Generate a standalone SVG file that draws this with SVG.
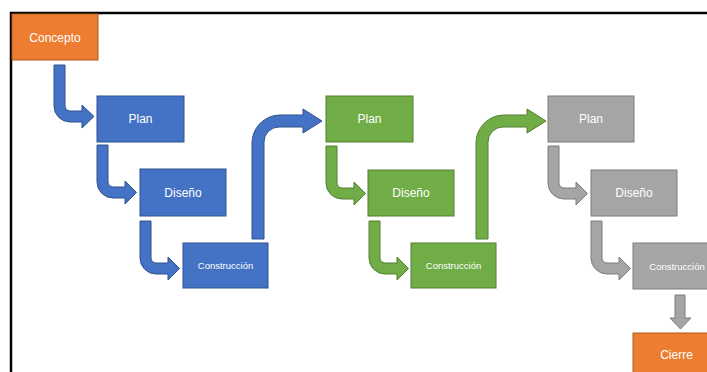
<svg xmlns="http://www.w3.org/2000/svg" width="707" height="372" viewBox="0 0 707 372">
  <style>
    .frame { fill: none; stroke: #000; stroke-width: 2.5; }
    .blue { fill: #4472C4; stroke: #2F528F; stroke-width: 1; }
    .green { fill: #70AD47; stroke: #507E32; stroke-width: 1; }
    .gray { fill: #A5A5A5; stroke: #7C7C7C; stroke-width: 1; }
    .orange { fill: #ED7D31; stroke: #AE5A21; stroke-width: 1; }
    text { font-family: "Liberation Sans", Arial, sans-serif; fill: #fff; text-anchor: middle; dominant-baseline: central; }
    .lbl { font-size: 12px; }
    .small { font-size: 9.5px; }
  </style>
  <defs>
    <!-- bent arrow: down, then right into the next box -->
    <path id="bend" d="M0 0 H11 V37 A5 5 0 0 0 16 42 H28 V36 L39.5 47.5 L28 59 V53 H16 A16 16 0 0 1 0 37 Z"/>
    <!-- tall arrow: up, then right to the next stage -->
    <path id="lift" d="M0 118 V22 A28 28 0 0 1 28 -6 H51 V-12 L70 0 L51 12 V6 H27 A15 15 0 0 0 12 21 V118 Z"/>
  </defs>

  <rect class="frame" x="11" y="13" width="710" height="370"/>

  <g id="connectors">
    <path class="blue" d="M54 65 H65 V106 A5 5 0 0 0 70 111 H82 V105 L94 116.5 L82 128 V122 H70 A16 16 0 0 1 54 106 Z"/>
    <use href="#bend" class="blue" x="97" y="145"/>
    <use href="#bend" class="blue" x="140" y="221"/>
    <use href="#lift" class="blue" x="252" y="121"/>

    <use href="#bend" class="green" x="326" y="146"/>
    <use href="#bend" class="green" x="369" y="221"/>
    <use href="#lift" class="green" x="476" y="121"/>

    <use href="#bend" class="gray" x="548" y="146"/>
    <use href="#bend" class="gray" x="591" y="221"/>
    <path class="gray" d="M675 295 H685 V318 H691 L680.5 329 L670 318 H675 Z"/>
  </g>

  <g id="concepto">
    <rect class="orange" x="12" y="14" width="86" height="46"/>
    <text class="lbl" x="55" y="38">Concepto</text>
  </g>

  <g id="plan-1">
    <rect class="blue" x="97" y="96" width="87" height="46"/>
    <text class="lbl" x="140.5" y="119">Plan</text>
  </g>
  <g id="diseno-1">
    <rect class="blue" x="140" y="169" width="86" height="47"/>
    <text class="lbl" x="183" y="192.5">Diseño</text>
  </g>
  <g id="construccion-1">
    <rect class="blue" x="183" y="243" width="85" height="45"/>
    <text class="small" x="225.5" y="265.5">Construcción</text>
  </g>

  <g id="plan-2">
    <rect class="green" x="326" y="96" width="87" height="46"/>
    <text class="lbl" x="369.5" y="119">Plan</text>
  </g>
  <g id="diseno-2">
    <rect class="green" x="368" y="170" width="86" height="46"/>
    <text class="lbl" x="411" y="193">Diseño</text>
  </g>
  <g id="construccion-2">
    <rect class="green" x="411" y="243" width="85" height="45"/>
    <text class="small" x="453.5" y="265.5">Construcción</text>
  </g>

  <g id="plan-3">
    <rect class="gray" x="548" y="96" width="86" height="46"/>
    <text class="lbl" x="591" y="119">Plan</text>
  </g>
  <g id="diseno-3">
    <rect class="gray" x="591" y="170" width="86" height="46"/>
    <text class="lbl" x="634" y="193">Diseño</text>
  </g>
  <g id="construccion-3">
    <rect class="gray" x="633" y="243" width="86" height="46"/>
    <text class="small" x="677" y="266">Construcción</text>
  </g>

  <g id="cierre">
    <rect class="orange" x="633" y="333" width="86" height="46"/>
    <text class="lbl" x="676.5" y="355">Cierre</text>
  </g>
</svg>
